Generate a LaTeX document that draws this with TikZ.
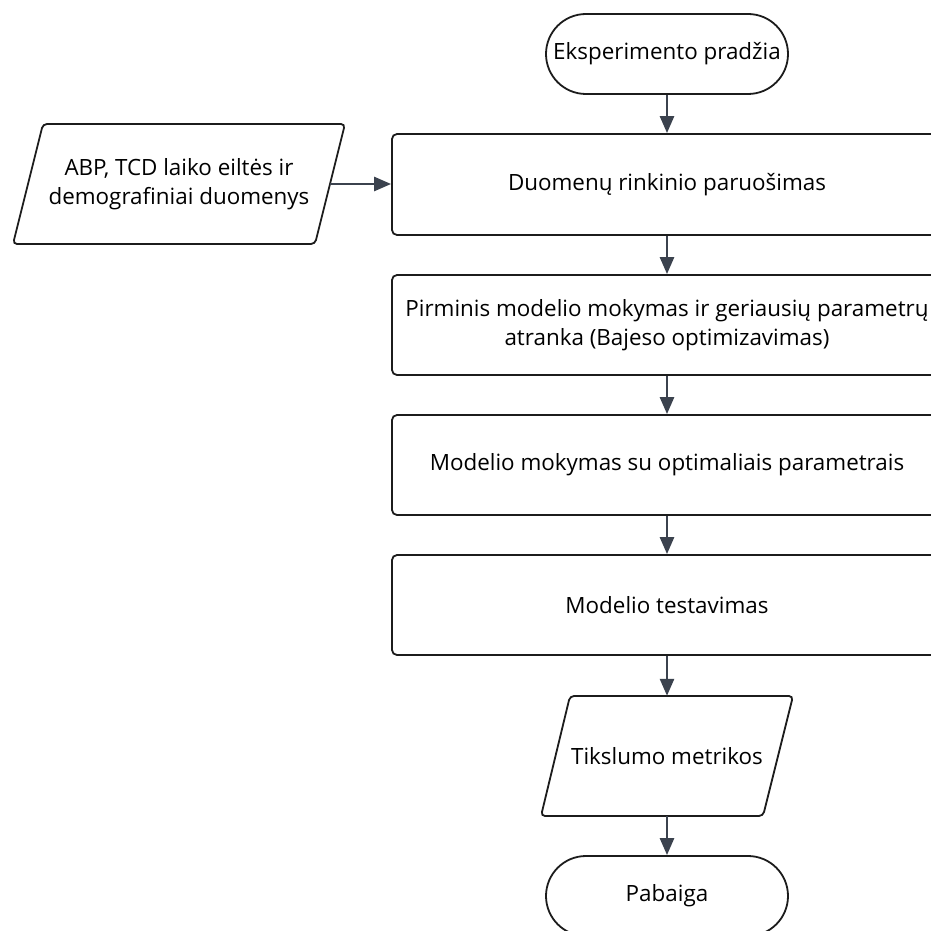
\documentclass[tikz,border=0pt]{standalone}
\usepackage{fontspec}
\setmainfont{Open Sans}
\usetikzlibrary{arrows.meta}
\definecolor{edge}{HTML}{1C1C1C}
\definecolor{flow}{HTML}{3B424E}
\newcommand{\flowfont}{\fontsize{22.4}{29}\selectfont}
\begin{document}
\begin{tikzpicture}[x=1pt,y=-1pt,
  stepbox/.style={draw=edge, line width=1.8pt, rounded corners=5pt,
    minimum width=550pt, minimum height=100pt, align=center,
    font=\flowfont, inner sep=0pt},
  terminal/.style={draw=edge, line width=1.8pt, rounded corners=40pt,
    minimum width=242pt, minimum height=80pt, font=\flowfont, inner sep=0pt},
  iolabel/.style={align=center, font=\flowfont, inner sep=0pt,
    minimum height=120pt},
  ioshape/.style={draw=edge, line width=1.8pt, rounded corners=4pt},
  flowarrow/.style={draw=flow, line width=2.6pt,
    -{Triangle[length=17pt,width=14pt]}}
]
\useasboundingbox (0,0) rectangle (931,931);
\clip (0,0) rectangle (931,931);
\fill[white] (0,0) rectangle (931,931);

% input data (parallelogram)
\draw[ioshape] (43,124) -- (345,124) -- (315,244) -- (13,244) -- cycle;
\node[iolabel, minimum width=302pt] (source) at (179,184)
  {ABP, TCD laiko eiltės ir\\demografiniai duomenys};

% main flow
\node[terminal] (start) at (667,54) {Eksperimento pradžia};
\node[stepbox, minimum height=101pt] (prep) at (667,184.5) {Duomenų rinkinio paruošimas};
\node[stepbox] (tune) at (667,325)
  {Pirminis modelio mokymas ir geriausių parametrų\\atranka (Bajeso optimizavimas)};
\node[stepbox] (train) at (667,465) {Modelio mokymas su optimaliais parametrais};
\node[stepbox] (test) at (667,605) {Modelio testavimas};

% output metrics (parallelogram)
\draw[ioshape] (570,696) -- (793,696) -- (763,816) -- (541,816) -- cycle;
\node[iolabel, minimum width=222pt] (metrics) at (667,756) {Tikslumo metrikos};

\node[terminal] (finish) at (667,896) {Pabaiga};

% connectors
\draw[flowarrow] (source.east) -- (prep.west |- source.east);
\draw[flowarrow] (start) -- (prep);
\draw[flowarrow] (prep) -- (tune);
\draw[flowarrow] (tune) -- (train);
\draw[flowarrow] (train) -- (test);
\draw[flowarrow] (test) -- (metrics);
\draw[flowarrow] (metrics) -- (finish);
\end{tikzpicture}
\end{document}
